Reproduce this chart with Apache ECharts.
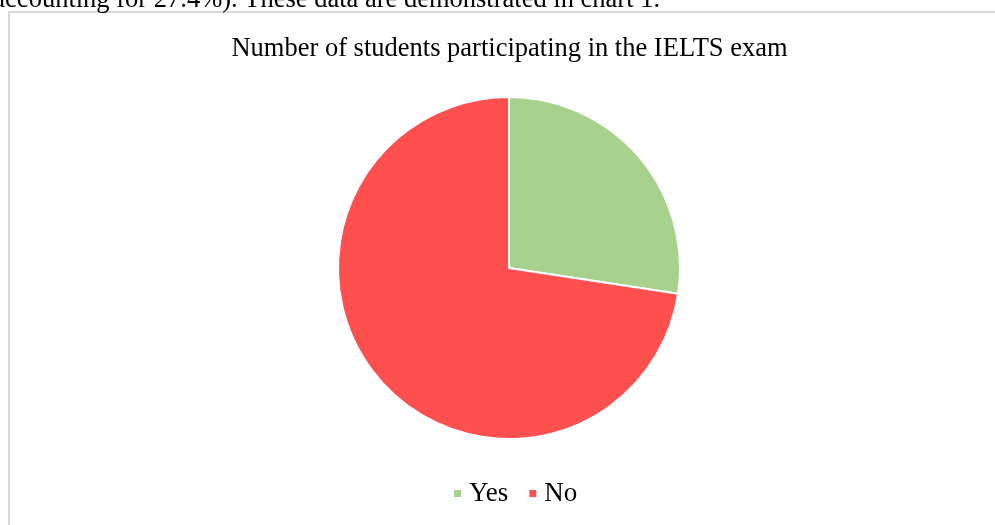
<!DOCTYPE html>
<html>
<head>
<meta charset="utf-8">
<script src="https://cdn.jsdelivr.net/npm/echarts@6/dist/echarts.min.js"></script>
<style>
html,body{margin:0;padding:0;background:#fff;}
#c{width:995px;height:525px;}
</style>
</head>
<body>
<div id="c"></div>
<script>
const categories = ['Yes', 'No'];
const values = [27.4, 72.6];
const colors = ['#a9d18e', '#ff5050'];
const chartTitle = 'Number of students participating in the IELTS exam';
const aboveText = 'accounting for 27.4%). These data are demonstrated in chart 1.';

const chart = echarts.init(document.getElementById('c'), null, {renderer: 'canvas'});
const font = '"Liberation Serif", "Times New Roman", serif';
chart.setOption({
  animation: false,
  backgroundColor: '#ffffff',
  color: colors,
  graphic: [
    {type: 'rect', shape: {x: 9, y: 12, width: 1000, height: 600},
     style: {fill: 'none', stroke: '#d9d9d9', lineWidth: 2}, z: 0},
    {type: 'text', x: 660, y: 14,
     style: {text: aboveText, font: '26.5px ' + font, fill: '#000', textAlign: 'right', textVerticalAlign: 'bottom'}},
    {type: 'text', x: 509.5, y: 49,
     style: {text: chartTitle, font: '26.5px ' + font, fill: '#000', textAlign: 'center', textVerticalAlign: 'middle'}}
  ],
  legend: {
    left: 452, top: 480, padding: 0,
    icon: 'rect', itemWidth: 9, itemHeight: 9, itemGap: 19,
    textStyle: {fontFamily: font, fontSize: 27, color: '#000', padding: [0, 0, 0, 2]},
    data: categories
  },
  series: [{
    type: 'pie',
    center: [509, 268],
    radius: 171,
    startAngle: 90,
    clockwise: true,
    label: {show: false},
    labelLine: {show: false},
    emphasis: {disabled: true},
    itemStyle: {borderColor: '#fff', borderWidth: 2},
    data: categories.map((c, i) => ({name: c, value: values[i]}))
  }]
});
</script>
</body>
</html>
